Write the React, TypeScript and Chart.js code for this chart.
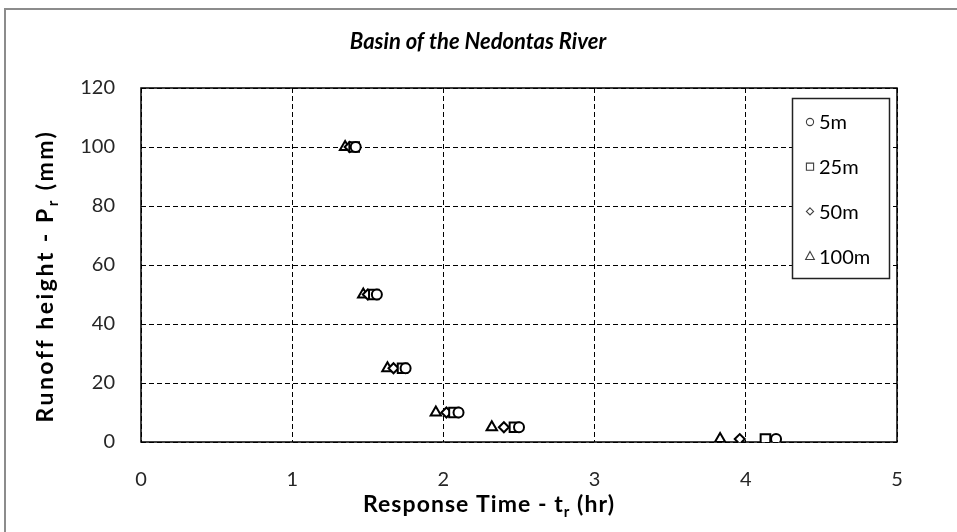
import { useEffect, useRef } from "react";
import { Chart, registerables } from "chart.js";

Chart.register(...registerables);

const chartTitle = "Basin of the Nedontas River";
const seriesLabels = ["5m", "25m", "50m", "100m"];
const runoffHeights = [100, 50, 25, 10, 5, 1];
const time5m = [1.42, 1.56, 1.75, 2.1, 2.5, 4.2];
const time25m = [1.41, 1.54, 1.73, 2.07, 2.47, 4.13];
const time50m = [1.38, 1.5, 1.67, 2.02, 2.4, 3.96];
const time100m = [1.35, 1.47, 1.63, 1.95, 2.32, 3.83];
const xTicks = [0, 1, 2, 3, 4, 5];
const yTicks = [0, 20, 40, 60, 80, 100, 120];

const FONT = "Lato, 'Open Sans', sans-serif";

type Part = { t: string; sub?: boolean };

function drawRich(
  ctx: CanvasRenderingContext2D,
  parts: Part[],
  cx: number,
  cy: number,
  size: number,
  rot: number,
  target: number
) {
  ctx.save();
  ctx.translate(cx, cy);
  ctx.rotate(rot);
  const main = `bold ${size}px ${FONT}`;
  const sub = `bold ${Math.round(size * 0.65)}px ${FONT}`;
  let natural = 0;
  let chars = 0;
  parts.forEach((p) => {
    ctx.font = p.sub ? sub : main;
    natural += ctx.measureText(p.t).width;
    chars += p.t.length;
  });
  const spacing = Math.max(0, (target - natural) / chars);
  const anyCtx = ctx as any;
  anyCtx.letterSpacing = `${spacing.toFixed(2)}px`;
  let total = 0;
  const widths = parts.map((p) => {
    ctx.font = p.sub ? sub : main;
    const w = ctx.measureText(p.t).width;
    total += w;
    return w;
  });
  let x = -total / 2;
  ctx.fillStyle = "#000";
  ctx.textBaseline = "alphabetic";
  ctx.textAlign = "left";
  parts.forEach((p, i) => {
    ctx.font = p.sub ? sub : main;
    ctx.fillText(p.t, x, p.sub ? size * 0.36 + size * 0.2 : size * 0.36);
    x += widths[i];
  });
  ctx.restore();
}

function drawMarker(ctx: CanvasRenderingContext2D, style: string, x: number, y: number, r: number) {
  ctx.beginPath();
  if (style === "circle") {
    ctx.arc(x, y, r, 0, Math.PI * 2);
  } else if (style === "rect") {
    ctx.rect(x - r, y - r, 2 * r, 2 * r);
  } else if (style === "rectRot") {
    ctx.moveTo(x, y - r);
    ctx.lineTo(x + r, y);
    ctx.lineTo(x, y + r);
    ctx.lineTo(x - r, y);
    ctx.closePath();
  } else {
    ctx.moveTo(x, y - r);
    ctx.lineTo(x + r * 0.95, y + r * 0.75);
    ctx.lineTo(x - r * 0.95, y + r * 0.75);
    ctx.closePath();
  }
  ctx.fill();
  ctx.stroke();
}

const decorPlugin = {
  id: "decor",
  beforeDraw(chart: any) {
    const ctx = chart.ctx as CanvasRenderingContext2D;
    ctx.save();
    ctx.fillStyle = "#fff";
    ctx.fillRect(0, 0, chart.width, chart.height);
    ctx.strokeStyle = "#8c8c8c";
    ctx.lineWidth = 2;
    ctx.strokeRect(5, 9, chart.width + 20, chart.height + 20);
    ctx.restore();
  },
  beforeDatasetsDraw(chart: any) {
    const ctx = chart.ctx as CanvasRenderingContext2D;
    const a = chart.chartArea;
    ctx.save();
    ctx.strokeStyle = "#000";
    ctx.lineWidth = 1.5;
    ctx.strokeRect(a.left, a.top, a.right - a.left, a.bottom - a.top);
    ctx.restore();
  },
  afterDraw(chart: any) {
    const ctx = chart.ctx as CanvasRenderingContext2D;
    ctx.save();
    ctx.font = `italic bold 22px ${FONT}`;
    ctx.fillStyle = "#000";
    ctx.textAlign = "center";
    ctx.textBaseline = "middle";
    ctx.fillText(chartTitle, 478, 42);
    ctx.restore();
    drawRich(ctx, [{ t: "Response Time - t" }, { t: "r", sub: true }, { t: " (hr)" }], 489, 504, 23, 0, 252);
    drawRich(ctx, [{ t: "Runoff height - P" }, { t: "r", sub: true }, { t: " (mm)" }], 45, 276, 23, -Math.PI / 2, 292);
    const lx = 792, ly = 98, lw = 97, lh = 180;
    ctx.save();
    ctx.fillStyle = "#fff";
    ctx.fillRect(lx, ly, lw, lh);
    ctx.strokeStyle = "#222";
    ctx.lineWidth = 1.5;
    ctx.strokeRect(lx + 0.5, ly + 0.5, lw, lh);
    chart.data.datasets.forEach((ds: any, i: number) => {
      const y = ly + 24 + i * 44.7;
      ctx.save();
      ctx.strokeStyle = "#404040";
      ctx.fillStyle = "#fff";
      ctx.lineWidth = 1.1;
      const r = ds.pointStyle === "rect" ? 3.6 : ds.pointStyle === "triangle" ? 4.6 : 3.6;
      drawMarker(ctx, ds.pointStyle, 810, y, r);
      ctx.restore();
      ctx.font = `20px ${FONT}`;
      ctx.fillStyle = "#000";
      ctx.textAlign = "left";
      ctx.textBaseline = "middle";
      ctx.fillText(ds.label, 819, y + 1);
    });
    ctx.restore();
  },
};

export default function App() {
  const ref = useRef<HTMLCanvasElement | null>(null);
  useEffect(() => {
    document.body.style.margin = "0";
    if (!ref.current) return;
    const times = [time5m, time25m, time50m, time100m];
    const styles = ["circle", "rect", "rectRot", "triangle"];
    const radii = [5, 6.8, 5, 6];
    const datasets = seriesLabels.map((label, i) => ({
      label,
      data: runoffHeights.map((y, j) => ({ x: times[i][j], y })),
      pointStyle: styles[i],
      pointRadius: radii[i],
      pointBorderWidth: 2,
      pointBorderColor: "#000",
      pointBackgroundColor: "#fff",
      showLine: false,
    }));
    const chart = new Chart(ref.current, {
      type: "scatter",
      data: { datasets },
      plugins: [decorPlugin],
      options: {
        responsive: false,
        animation: false,
        layout: { padding: { top: 88, right: 60, left: 0, bottom: 0 } },
        plugins: { legend: { display: false }, title: { display: false }, tooltip: { enabled: false } },
        scales: {
          x: {
            type: "linear",
            min: xTicks[0],
            max: xTicks[xTicks.length - 1],
            afterFit: (s: any) => { s.height = 90; },
            afterBuildTicks: (s: any) => { s.ticks = xTicks.map((v) => ({ value: v })); },
            ticks: { color: "#262626", font: { family: FONT, size: 20 }, padding: 26, maxRotation: 0 },
            grid: { color: "#000", lineWidth: 1, tickLength: 0 },
            border: { display: false, dash: [5, 3] },
          },
          y: {
            type: "linear",
            min: yTicks[0],
            max: yTicks[yTicks.length - 1],
            afterFit: (s: any) => { s.width = 141; },
            afterBuildTicks: (s: any) => { s.ticks = yTicks.map((v) => ({ value: v })); },
            ticks: { color: "#262626", font: { family: FONT, size: 20 }, padding: 26 },
            grid: { color: "#000", lineWidth: 1, tickLength: 0 },
            border: { display: false, dash: [5, 3] },
          },
        },
      },
    });
    return () => chart.destroy();
  }, []);
  return <canvas ref={ref} width={957} height={532} style={{ display: "block" }} />;
}
